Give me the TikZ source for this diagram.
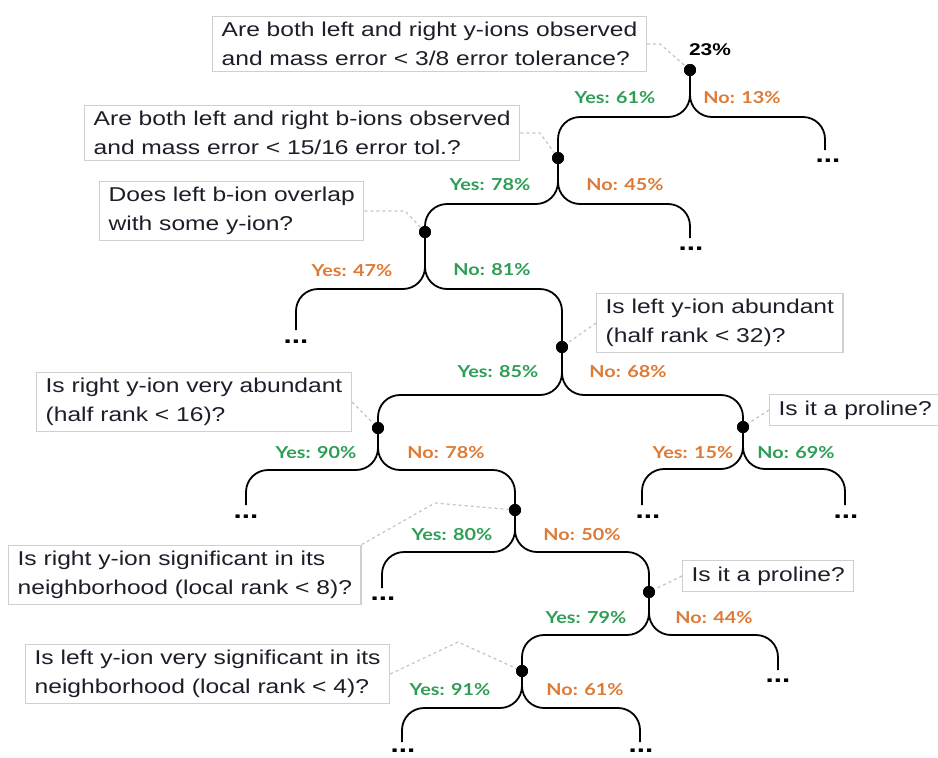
\documentclass[tikz,border=0pt]{standalone}
\usepackage{fontspec}
\setmainfont{Liberation Sans}[FakeStretch=1.23]
\newfontfamily\lblfont{Lato}[FakeStretch=1.2]
\definecolor{boxgray}{HTML}{CFCFCF}
\definecolor{conngray}{HTML}{C4C4C4}
\definecolor{textdark}{HTML}{1E1E2A}
\definecolor{yesgreen}{HTML}{2E9E55}
\definecolor{noorange}{HTML}{DD7A36}
\begin{document}
\begin{tikzpicture}[x=1pt,y=-1pt,
  qbox/.style={draw=boxgray, line width=1.3pt, fill=white, align=left,
    inner xsep=9pt, inner ysep=6pt, font=\fontsize{20}{29}\selectfont,
    text=textdark, anchor=west},
  dot/.style={circle, fill=black, inner sep=0pt, minimum size=12pt},
  branch/.style={line width=1.8pt, rounded corners=22pt},
  conn/.style={draw=conngray, dashed, line width=1.2pt},
  yeslbl/.style={text=yesgreen, font=\lblfont\bfseries\fontsize{16.5}{18}\selectfont, inner sep=0pt},
  nolbl/.style={text=noorange, font=\lblfont\bfseries\fontsize{16.5}{18}\selectfont, inner sep=0pt},
  leafdots/.style={font=\bfseries\fontsize{24}{24}\selectfont, inner sep=0pt}
]
\useasboundingbox (0,0) rectangle (938,758);

% decision points
\node[dot] (N1) at (690,70) {};
\node[dot] (N2) at (558,158) {};
\node[dot] (N3) at (425,232) {};
\node[dot] (N4) at (562,347) {};
\node[dot] (N5) at (378,428) {};
\node[dot] (N6) at (743,427) {};
\node[dot] (N7) at (515,510) {};
\node[dot] (N8) at (649,592) {};
\node[dot] (N9) at (522,671) {};

\node[font=\fontsize{17}{20}\selectfont\bfseries, text=black, inner sep=0pt] (P1) at (710,50) {23\%};

% leaf ends
\coordinate (L1) at (825,150);
\coordinate (L2) at (690,238);
\coordinate (L3) at (296,330);
\coordinate (L5) at (246,505);
\coordinate (L6a) at (642,505);
\coordinate (L6b) at (845,505);
\coordinate (L7) at (382,588);
\coordinate (L8) at (778,670);
\coordinate (L9a) at (402,742);
\coordinate (L9b) at (640,742);

\node[leafdots] (D1) at (828,161) {...};
\node[leafdots] (D2) at (691,249) {...};
\node[leafdots] (D3) at (296,342) {...};
\node[leafdots] (D5) at (246,517) {...};
\node[leafdots] (D6a) at (648,517) {...};
\node[leafdots] (D6b) at (846,517) {...};
\node[leafdots] (D7) at (383,599) {...};
\node[leafdots] (D8) at (778,681) {...};
\node[leafdots] (D9a) at (403,751) {...};
\node[leafdots] (D9b) at (641,751) {...};

% branches
\draw[branch] (N1.center) -- ++(0,47) -| (N2.center);
\draw[branch] (N1.center) -- ++(0,47) -| (L1);
\draw[branch] (N2.center) -- ++(0,46) -| (N3.center);
\draw[branch] (N2.center) -- ++(0,46) -| (L2);
\draw[branch] (N3.center) -- ++(0,57) -| (L3);
\draw[branch] (N3.center) -- ++(0,57) -| (N4.center);
\draw[branch] (N4.center) -- ++(0,48) -| (N5.center);
\draw[branch] (N4.center) -- ++(0,48) -| (N6.center);
\draw[branch] (N5.center) -- ++(0,42) -| (L5);
\draw[branch] (N5.center) -- ++(0,42) -| (N7.center);
\draw[branch] (N6.center) -- ++(0,42) -| (L6a);
\draw[branch] (N6.center) -- ++(0,42) -| (L6b);
\draw[branch] (N7.center) -- ++(0,42) -| (L7);
\draw[branch] (N7.center) -- ++(0,42) -| (N8.center);
\draw[branch] (N8.center) -- ++(0,43) -| (N9.center);
\draw[branch] (N8.center) -- ++(0,43) -| (L8);
\draw[branch] (N9.center) -- ++(0,37) -| (L9a);
\draw[branch] (N9.center) -- ++(0,37) -| (L9b);

% redraw dots on top
\foreach \n in {N1,N2,N3,N4,N5,N6,N7,N8,N9} \fill (\n) circle (6pt);

% branch labels
\node[yeslbl] (Y1) at (615,98) {Yes: 61\%};
\node[nolbl]  (O1) at (742,98) {No: 13\%};
\node[yeslbl] (Y2) at (490,185) {Yes: 78\%};
\node[nolbl]  (O2) at (625,185) {No: 45\%};
\node[nolbl]  (Y3) at (352,271) {Yes: 47\%};
\node[yeslbl] (O3) at (492,270) {No: 81\%};
\node[yeslbl] (Y4) at (498,372) {Yes: 85\%};
\node[nolbl]  (O4) at (628,372) {No: 68\%};
\node[yeslbl] (Y5) at (316,453) {Yes: 90\%};
\node[nolbl]  (O5) at (446,453) {No: 78\%};
\node[nolbl]  (Y6) at (693,453) {Yes: 15\%};
\node[yeslbl] (O6) at (796,453) {No: 69\%};
\node[yeslbl] (Y7) at (452,535) {Yes: 80\%};
\node[nolbl]  (O7) at (582,535) {No: 50\%};
\node[yeslbl] (Y8) at (586,618) {Yes: 79\%};
\node[nolbl]  (O8) at (714,618) {No: 44\%};
\node[yeslbl] (Y9) at (450,690) {Yes: 91\%};
\node[nolbl]  (O9) at (585,690) {No: 61\%};

% question boxes
\node[qbox] (B1) at (212,44) {Are both left and right y-ions observed\\and mass error < 3/8 error tolerance?};
\node[qbox] (B2) at (84,133) {Are both left and right b-ions observed\\and mass error < 15/16 error tol.?};
\node[qbox] (B3) at (99,211) {Does left b-ion overlap\\with some y-ion?};
\node[qbox] (B4) at (596,323) {Is left y-ion abundant\\(half rank < 32)?};
\node[qbox] (B5) at (36,402) {Is right y-ion very abundant\\(half rank < 16)?};
\node[qbox] (B6) at (769,410) {Is it a proline?};
\node[qbox] (B7) at (8,575) {Is right y-ion significant in its\\neighborhood (local rank < 8)?};
\node[qbox] (B8) at (682,576) {Is it a proline?};
\node[qbox] (B9) at (25,674) {Is left y-ion very significant in its\\neighborhood (local rank < 4)?};

% box connectors
\coordinate (K1) at (660,44);
\coordinate (K2) at (540,133);
\coordinate (K3) at (405,211);
\coordinate (K7) at (435,503);
\coordinate (K9) at (458,642);
\draw[conn] (B1.east) -- (K1) -- (N1);
\draw[conn] (B2.east) -- (K2) -- (N2);
\draw[conn] (B3.east) -- (K3) -- (N3);
\draw[conn] (B4.west) -- (N4);
\draw[conn] (B5.east) -- (N5);
\draw[conn] (B6.west) -- (N6);
\draw[conn] (B7.north east) -- (K7) -- (N7);
\draw[conn] (B8.west) -- (N8);
\draw[conn] (B9.east) -- (K9) -- (N9);
\end{tikzpicture}
\end{document}
